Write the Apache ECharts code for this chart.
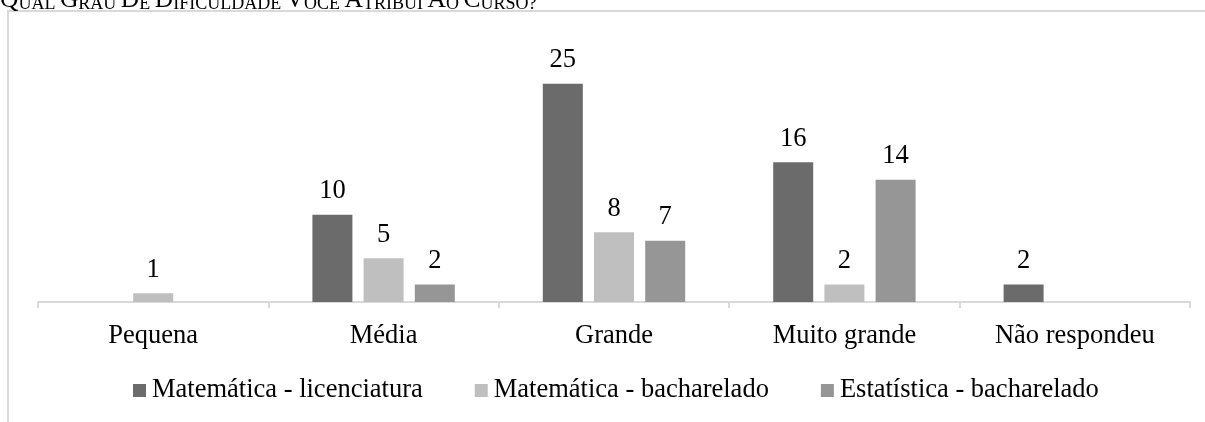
<!DOCTYPE html>
<html>
<head>
<meta charset="utf-8">
<script src="https://cdn.jsdelivr.net/npm/echarts@6/dist/echarts.min.js"></script>
<style>
  html, body { margin: 0; padding: 0; background: #fff; }
  #chart { width: 1205px; height: 422px; }
</style>
</head>
<body>
<div id="chart"></div>
<script>
// Survey: perceived difficulty of the course, by programme
const title = 'QUAL GRAU DE DIFICULDADE VOCÊ ATRIBUI AO CURSO?';
const categories = ['Pequena', 'Média', 'Grande', 'Muito grande', 'Não respondeu'];
const seriesNames = ['Matemática - licenciatura', 'Matemática - bacharelado', 'Estatística - bacharelado'];
const matLicenciatura = [null, 10, 25, 16, 2];
const matBacharelado = [1, 5, 8, 2, null];
const estBacharelado = [null, 2, 7, 14, null];

const FONT = 'Liberation Serif';
const FS = 26.5;
const colors = ['#6b6b6b', '#bfbfbf', '#969696'];

// Small-caps title: first letter of each word full size, rest smaller
const titleRich = title.split(' ').map(w =>
  '{c|' + w.charAt(0) + '}' + (w.length > 1 ? '{s|' + w.slice(1) + '}' : '')
).join('{s| }');

const chart = echarts.init(document.getElementById('chart'), null, { renderer: 'canvas' });

function barSeries(name, data, color) {
  return {
    name: name,
    type: 'bar',
    data: data,
    barWidth: 40,
    barGap: '28%',
    itemStyle: { color: color },
    label: {
      show: true,
      position: 'top',
      distance: 10,
      color: '#000',
      fontFamily: FONT,
      fontSize: FS
    }
  };
}

chart.setOption({
  animation: false,
  backgroundColor: '#fff',
  graphic: [
    {
      type: 'rect',
      shape: { x: 8, y: 11, width: 1400, height: 600 },
      style: { fill: 'none', stroke: '#d9d9d9', lineWidth: 2 },
      silent: true
    },
    {
      type: 'text',
      left: 0,
      top: -13,
      style: {
        text: titleRich,
        fill: '#000',
        rich: {
          c: { fontFamily: FONT, fontSize: 25.5, verticalAlign: 'bottom', lineHeight: 25 },
          s: { fontFamily: FONT, fontSize: 18, verticalAlign: 'bottom', lineHeight: 25 }
        }
      }
    }
  ],
  grid: { left: 38, right: 15, top: 40, bottom: 120, containLabel: false },
  legend: {
    data: seriesNames,
    left: 133,
    top: 377,
    padding: 0,
    icon: 'rect',
    itemWidth: 13,
    itemHeight: 13,
    itemGap: 52,
    textStyle: { fontFamily: FONT, fontSize: FS, color: '#000', padding: [0, 0, 0, 1] }
  },
  xAxis: {
    type: 'category',
    data: categories,
    axisLine: { lineStyle: { color: '#d9d9d9', width: 2 } },
    axisTick: { show: true, length: 6, alignWithLabel: false, lineStyle: { color: '#d9d9d9', width: 2 } },
    axisLabel: { fontFamily: FONT, fontSize: FS, color: '#000', margin: 21 }
  },
  yAxis: {
    type: 'value',
    min: 0,
    max: 30,
    show: false,
    splitLine: { show: false }
  },
  series: [
    barSeries(seriesNames[0], matLicenciatura, colors[0]),
    barSeries(seriesNames[1], matBacharelado, colors[1]),
    barSeries(seriesNames[2], estBacharelado, colors[2])
  ]
});
</script>
</body>
</html>
